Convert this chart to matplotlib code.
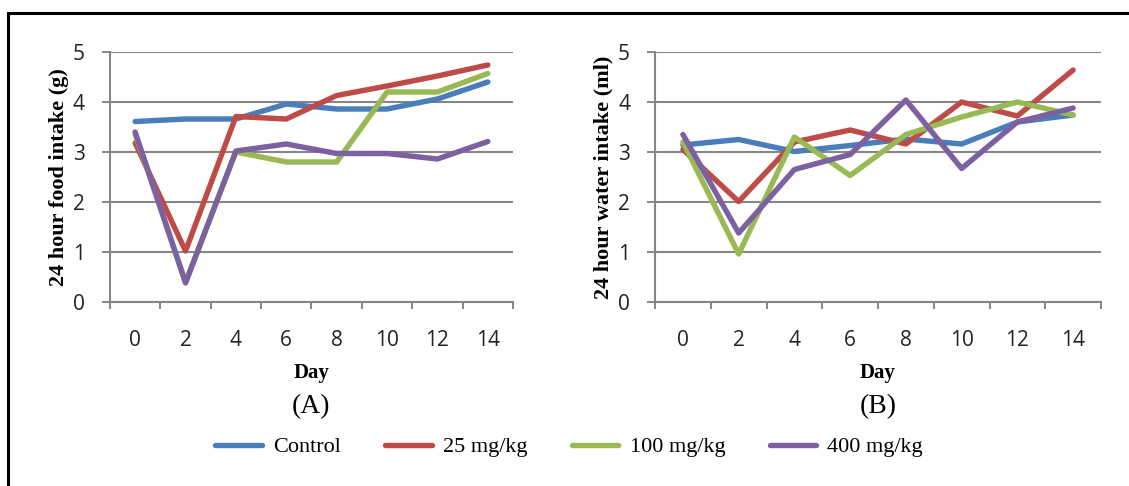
import numpy as np
import matplotlib
matplotlib.use('Agg')
import matplotlib.pyplot as plt
from matplotlib.lines import Line2D

days = ['0', '2', '4', '6', '8', '10', '12', '14']
groups = ['Control', '25 mg/kg', '100 mg/kg', '400 mg/kg']
colors = ['#4A7EBB', '#BE4B48', '#98B954', '#7D60A0']

# 24 hour food intake (g)
food_control = [3.61, 3.66, 3.66, 3.96, 3.86, 3.86, 4.06, 4.40]
food_25 = [3.18, 1.02, 3.71, 3.66, 4.13, 4.32, 4.52, 4.74]
food_100 = [3.36, 0.40, 3.00, 2.80, 2.80, 4.20, 4.20, 4.57]
food_400 = [3.40, 0.38, 3.02, 3.16, 2.97, 2.97, 2.86, 3.21]

# 24 hour water intake (ml)
water_control = [3.14, 3.25, 3.01, 3.13, 3.26, 3.16, 3.60, 3.74]
water_25 = [3.05, 2.01, 3.20, 3.44, 3.16, 4.00, 3.72, 4.64]
water_100 = [3.20, 0.96, 3.30, 2.53, 3.35, 3.70, 4.00, 3.74]
water_400 = [3.35, 1.38, 2.65, 2.95, 4.04, 2.67, 3.60, 3.88]

food = [food_control, food_25, food_100, food_400]
water = [water_control, water_25, water_100, water_400]

serif = 'Liberation Serif'
grid_col = '#868686'

fig = plt.figure(figsize=(11.29, 4.86), dpi=100)


def panel(rect, data, ylabel, tag):
    ax = fig.add_axes(rect)
    x = np.arange(len(days))
    for vals, c, name in zip(data, colors, groups):
        ax.plot(x, vals, color=c, lw=3.9, label=name, solid_capstyle='round',
                solid_joinstyle='round')
    ax.set_xlim(-0.5, len(days) - 0.5)
    ax.set_ylim(0, 5)
    ax.set_yticks(range(6))
    ax.set_xticks(np.arange(-0.5, len(days)), [''] * (len(days) + 1))
    ax.set_xticks(x, days, minor=True)
    ax.tick_params(axis='x', which='major', length=5, width=1.4, color=grid_col, direction='out')
    ax.tick_params(axis='x', which='minor', length=0, pad=20, labelsize=15)
    ax.tick_params(axis='y', length=6, width=1.4, color=grid_col, labelsize=15, pad=12)
    for lab in ax.get_xticklabels(minor=True) + ax.get_yticklabels():
        lab.set_family('Open Sans')
        lab.set_color('#222222')
    ax.grid(axis='y', color=grid_col, lw=1.5)
    ax.set_axisbelow(True)
    for s in ['top', 'right']:
        ax.spines[s].set_visible(False)
    for s in ['left', 'bottom']:
        ax.spines[s].set_color(grid_col)
        ax.spines[s].set_linewidth(1.5)
    ax.set_ylabel(ylabel, family=serif, fontweight='bold', fontsize=16, labelpad=3)
    cx = rect[0] + rect[2] / 2
    fig.text(cx, 1 - 373 / 486, 'Day', family=serif, fontweight='bold', fontsize=15,
             ha='center', va='center')
    fig.text(cx, 1 - 407 / 486, tag, family=serif, fontsize=20, ha='center', va='center')
    return ax


axA = panel([0.0974, 0.3786, 0.3570, 0.5144], food, '24 hour food intake (g)', '(A)')
axB = panel([0.5802, 0.3786, 0.3950, 0.5144], water, '24 hour water intake (ml)', '(B)')

handles, labels = axA.get_legend_handles_labels()
fig.legend(handles, labels, loc='center', bbox_to_anchor=(0.504, 1 - 447 / 486), ncol=4,
           frameon=False, prop={'family': serif, 'size': 16}, handlelength=2.1,
           handletextpad=0.5, columnspacing=2.0)

# frame lines at top and left of the figure
fig.add_artist(Line2D([0.007, 1.0], [1 - 13 / 486] * 2, color='black', lw=2.2,
                      transform=fig.transFigure))
fig.add_artist(Line2D([0.007, 0.007], [0, 1 - 13 / 486], color='black', lw=2.2,
                      transform=fig.transFigure))

fig.savefig('out.png', dpi=100)
